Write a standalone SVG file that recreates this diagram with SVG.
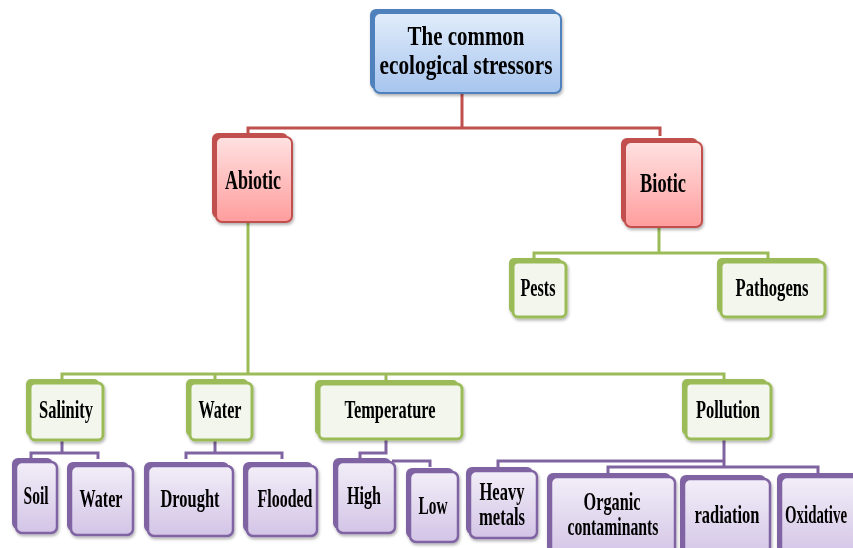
<svg xmlns="http://www.w3.org/2000/svg" width="853" height="548" viewBox="0 0 853 548">
<defs>
<linearGradient id="gBlue" x1="0" y1="0" x2="0" y2="1"><stop offset="0" stop-color="#e2edfb"/><stop offset="1" stop-color="#a6c5ee"/></linearGradient>
<linearGradient id="gRed" x1="0" y1="0" x2="0" y2="1"><stop offset="0" stop-color="#ffe1e1"/><stop offset="1" stop-color="#ff9d9d"/></linearGradient>
<linearGradient id="gPur" x1="0" y1="0" x2="0" y2="1"><stop offset="0" stop-color="#f2eef8"/><stop offset="1" stop-color="#d3c4e6"/></linearGradient>
<filter id="sh" x="-20%" y="-20%" width="140%" height="140%"><feDropShadow dx="1" dy="2" stdDeviation="1.5" flood-color="#000" flood-opacity="0.3"/></filter>
</defs>
<style>
text{font-family:"Liberation Serif","Times New Roman",serif;font-weight:bold;fill:#000;text-anchor:middle}
.t1{font-size:28px}.t2{font-size:27px}.t3{font-size:25px}
.c{fill:none;stroke-width:3}
.cr{stroke:#c0504d}.cg{stroke:#9bbb59}.cp{stroke:#8064a2}
.bb{fill:#4f81bd}.fb{fill:url(#gBlue);stroke:#4f81bd;stroke-width:2}
.br{fill:#c0504d}.fr{fill:url(#gRed);stroke:#c0504d;stroke-width:2}
.bg{fill:#9bbb59}.fg{fill:#f3f6ed;stroke:#9bbb59;stroke-width:3}
.bp{fill:#8064a2}.fp{fill:url(#gPur);stroke:#8064a2;stroke-width:2.5}
</style>
<rect width="853" height="548" fill="#fff"/>
<g id="connectors">
<path class="c cr" d="M462 93V128M248 134V128H660V136"/>
<path class="c cg" d="M248 222V374M62 380V374H724V380M215 374V380M386 374V380"/>
<path class="c cg" d="M659 227V253M534 258V253H768V258"/>
<path class="c cp" d="M62 440V453M31 459V453H98V459"/>
<path class="c cp" d="M215 440V453M186 459V453H282V459"/>
<path class="c cp" d="M386 439V453H360V459M392 461H430V467"/>
<path class="c cp" d="M724 439V467M498 467V461H724M608 473V467H818V473"/>
</g>
<g id="n_root" filter="url(#sh)"><rect class="bb" x="370" y="9" width="187" height="80" rx="6"/><rect class="fb" x="374" y="13" width="187" height="80" rx="6"/><text class="t1" x="466" y="45" textLength="117" lengthAdjust="spacingAndGlyphs">The common</text><text class="t1" x="466" y="74" textLength="173" lengthAdjust="spacingAndGlyphs">ecological stressors</text></g>
<g id="n_abiotic" filter="url(#sh)"><rect class="br" x="212" y="133" width="76" height="85" rx="6"/><rect class="fr" x="216" y="137" width="76" height="85" rx="6"/><text class="t2" x="253" y="189" textLength="56" lengthAdjust="spacingAndGlyphs">Abiotic</text></g>
<g id="n_biotic" filter="url(#sh)"><rect class="br" x="621" y="138" width="77" height="85" rx="6"/><rect class="fr" x="625" y="142" width="77" height="85" rx="6"/><text class="t2" x="663" y="192" textLength="46" lengthAdjust="spacingAndGlyphs">Biotic</text></g>
<g id="n_pests" filter="url(#sh)"><rect class="bg" x="509" y="258" width="53" height="55" rx="5"/><rect class="fg" x="513" y="262" width="53" height="55" rx="5"/><text class="t3" x="538" y="296" textLength="35" lengthAdjust="spacingAndGlyphs">Pests</text></g>
<g id="n_pathogens" filter="url(#sh)"><rect class="bg" x="717" y="258" width="104" height="55" rx="5"/><rect class="fg" x="721" y="262" width="104" height="55" rx="5"/><text class="t3" x="772" y="296" textLength="73" lengthAdjust="spacingAndGlyphs">Pathogens</text></g>
<g id="n_salinity" filter="url(#sh)"><rect class="bg" x="26" y="379" width="73" height="57" rx="5"/><rect class="fg" x="30" y="383" width="73" height="57" rx="5"/><text class="t3" x="66" y="418" textLength="54" lengthAdjust="spacingAndGlyphs">Salinity</text></g>
<g id="n_water1" filter="url(#sh)"><rect class="bg" x="186" y="379" width="62" height="57" rx="5"/><rect class="fg" x="190" y="383" width="62" height="57" rx="5"/><text class="t3" x="220" y="418" textLength="43" lengthAdjust="spacingAndGlyphs">Water</text></g>
<g id="n_temperature" filter="url(#sh)"><rect class="bg" x="315" y="380" width="143" height="55" rx="5"/><rect class="fg" x="319" y="384" width="143" height="55" rx="5"/><text class="t3" x="390" y="418" textLength="91" lengthAdjust="spacingAndGlyphs">Temperature</text></g>
<g id="n_pollution" filter="url(#sh)"><rect class="bg" x="682" y="379" width="85" height="56" rx="5"/><rect class="fg" x="686" y="383" width="85" height="56" rx="5"/><text class="t3" x="728" y="418" textLength="64" lengthAdjust="spacingAndGlyphs">Pollution</text></g>
<g id="n_soil" filter="url(#sh)"><rect class="bp" x="12" y="458" width="41" height="71" rx="6"/><rect class="fp" x="16" y="462" width="41" height="71" rx="6"/><text class="t3" x="36" y="504" textLength="25" lengthAdjust="spacingAndGlyphs">Soil</text></g>
<g id="n_water2" filter="url(#sh)"><rect class="bp" x="67" y="462" width="62" height="69" rx="6"/><rect class="fp" x="71" y="466" width="62" height="69" rx="6"/><text class="t3" x="101" y="507" textLength="43" lengthAdjust="spacingAndGlyphs">Water</text></g>
<g id="n_drought" filter="url(#sh)"><rect class="bp" x="144" y="462" width="85" height="70" rx="6"/><rect class="fp" x="148" y="466" width="85" height="70" rx="6"/><text class="t3" x="190" y="507" textLength="59" lengthAdjust="spacingAndGlyphs">Drought</text></g>
<g id="n_flooded" filter="url(#sh)"><rect class="bp" x="243" y="462" width="70" height="70" rx="6"/><rect class="fp" x="247" y="466" width="70" height="70" rx="6"/><text class="t3" x="285" y="507" textLength="55" lengthAdjust="spacingAndGlyphs">Flooded</text></g>
<g id="n_high" filter="url(#sh)"><rect class="bp" x="333" y="458" width="58" height="71" rx="6"/><rect class="fp" x="337" y="462" width="58" height="71" rx="6"/><text class="t3" x="364" y="504" textLength="34" lengthAdjust="spacingAndGlyphs">High</text></g>
<g id="n_low" filter="url(#sh)"><rect class="bp" x="406" y="468" width="48" height="70" rx="6"/><rect class="fp" x="410" y="472" width="48" height="70" rx="6"/><text class="t3" x="433" y="514" textLength="29" lengthAdjust="spacingAndGlyphs">Low</text></g>
<g id="n_heavy" filter="url(#sh)"><rect class="bp" x="466" y="467" width="67" height="67" rx="6"/><rect class="fp" x="470" y="471" width="67" height="67" rx="6"/><text class="t3" x="502" y="500" textLength="45" lengthAdjust="spacingAndGlyphs">Heavy</text><text class="t3" x="502" y="525" textLength="46" lengthAdjust="spacingAndGlyphs">metals</text></g>
<g id="n_organic" filter="url(#sh)"><rect class="bp" x="547" y="473" width="124" height="80" rx="6"/><rect class="fp" x="551" y="477" width="124" height="80" rx="6"/><text class="t3" x="612" y="510" textLength="57" lengthAdjust="spacingAndGlyphs">Organic</text><text class="t3" x="613" y="535" textLength="91" lengthAdjust="spacingAndGlyphs">contaminants</text></g>
<g id="n_radiation" filter="url(#sh)"><rect class="bp" x="680" y="475" width="86" height="80" rx="6"/><rect class="fp" x="684" y="479" width="86" height="80" rx="6"/><text class="t3" x="727" y="523" textLength="65" lengthAdjust="spacingAndGlyphs">radiation</text></g>
<g id="n_oxidative" filter="url(#sh)"><rect class="bp" x="777" y="473" width="86" height="80" rx="6"/><rect class="fp" x="781" y="477" width="86" height="80" rx="6"/><text class="t3" x="816" y="523" textLength="62" lengthAdjust="spacingAndGlyphs">Oxidative</text></g>
</svg>
